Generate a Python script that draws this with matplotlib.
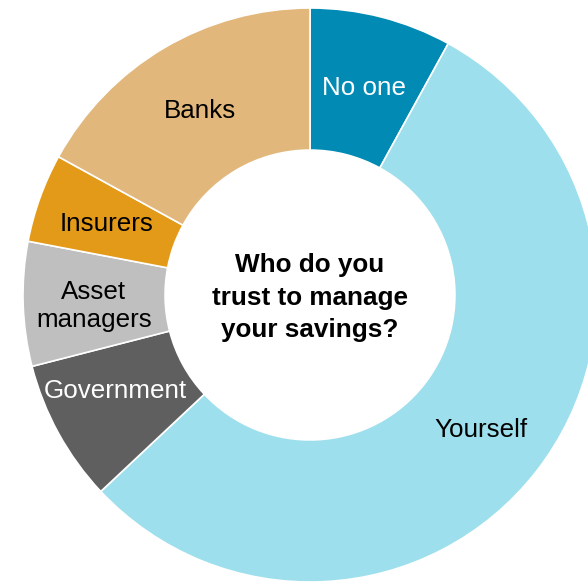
import matplotlib.pyplot as plt

# Share of respondents by who they trust with their savings
categories = ["No one", "Yourself", "Government", "Asset\nmanagers", "Insurers", "Banks"]
shares = [8, 55, 8, 7, 5, 17]
colors = ["#008AB4", "#9DDFEC", "#5F5F5F", "#BFBFBF", "#E39A18", "#E2B77C"]
label_colors = ["white", "black", "white", "black", "black", "black"]
center_title = "Who do you\ntrust to manage\nyour savings?"

plt.rcParams["font.family"] = ["Liberation Sans", "DejaVu Sans"]

fig = plt.figure(figsize=(5.88, 5.82), dpi=100)
ax = fig.add_axes([0, 0, 1, 1])

wedges, texts = ax.pie(
    shares,
    labels=categories,
    colors=colors,
    startangle=90,
    counterclock=False,
    radius=1.0,
    labeldistance=0.753,
    wedgeprops=dict(width=0.495, edgecolor="white", linewidth=1.2),
)

for text, color in zip(texts, label_colors):
    text.set_ha("center")
    text.set_va("center_baseline")
    text.set_color(color)
    text.set_fontsize(18.7)
    text.set_linespacing(1.2)

# the government label sits a little higher and further left in its slice
gx, gy = texts[2].get_position()
texts[2].set_position((gx - 0.02, gy + 0.038))

ax.text(0, -0.01, center_title, ha="center", va="center",
        fontsize=18.8, fontweight="bold", linespacing=1.45)

# outer radius is 287 px, ring centre sits at (310, 295) from the top-left
ax.set_xlim(-310 / 287, (588 - 310) / 287)
ax.set_ylim(-1.0, 295 / 287)
ax.set_aspect("equal")
ax.axis("off")

fig.savefig("out.png", dpi=100)
